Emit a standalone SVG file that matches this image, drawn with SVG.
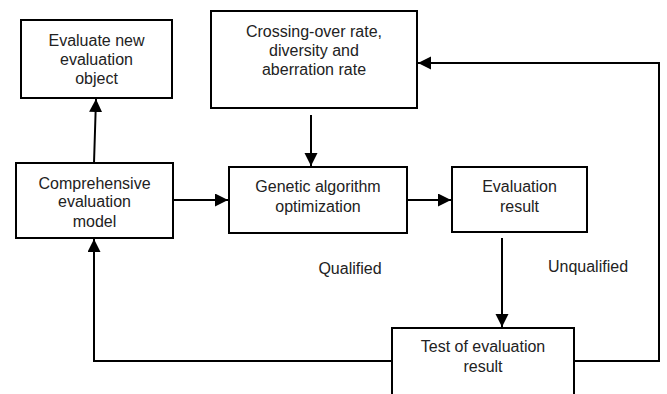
<svg xmlns="http://www.w3.org/2000/svg" width="667" height="394" viewBox="0 0 667 394">
<style>
.box{fill:#fff;stroke:#000;stroke-width:2}
.t{font-family:"Liberation Sans",Arial,sans-serif;font-size:16px;fill:#222;text-anchor:middle}
.c{fill:none;stroke:#000;stroke-width:2}
</style>
<defs>
<marker id="ah" markerUnits="userSpaceOnUse" markerWidth="14" markerHeight="14" refX="13" refY="6.5" orient="auto">
<path d="M0,0 L13,6.5 L0,13 z" fill="#000"/>
</marker>
</defs>
<rect width="667" height="394" fill="#fff"/>
<g id="connectors">
<path class="c" d="M94,163 L96,99" marker-end="url(#ah)"/>
<path class="c" d="M311,115 L311,166" marker-end="url(#ah)"/>
<path class="c" d="M173,200 L228,200" marker-end="url(#ah)"/>
<path class="c" d="M407,200 L451,200" marker-end="url(#ah)"/>
<path class="c" d="M502,238 L502,327" marker-end="url(#ah)"/>
<path class="c" d="M392,361 L94,361 L94,239" marker-end="url(#ah)"/>
<path class="c" d="M574,361 L659,361 L659,63 L418,63" marker-end="url(#ah)"/>
<text class="t" x="350" y="274">Qualified</text>
<text class="t" x="588" y="272">Unqualified</text>
</g>
<g id="evaluate-new">
<rect class="box" x="21" y="20" width="151" height="78"/>
<text class="t" x="96.5" y="46">Evaluate new</text>
<text class="t" x="96.5" y="65">evaluation</text>
<text class="t" x="96.5" y="84">object</text>
</g>
<g id="crossing-over">
<rect class="box" x="211" y="11" width="206" height="97"/>
<text class="t" x="314" y="37">Crossing-over rate,</text>
<text class="t" x="314" y="56">diversity and</text>
<text class="t" x="314" y="75">aberration rate</text>
</g>
<g id="comprehensive">
<rect class="box" x="16" y="163" width="157" height="75"/>
<text class="t" x="94.5" y="188.5">Comprehensive</text>
<text class="t" x="94.5" y="207">evaluation</text>
<text class="t" x="94.5" y="226.5">model</text>
</g>
<g id="genetic">
<rect class="box" x="229" y="167" width="178" height="66"/>
<text class="t" x="318" y="192">Genetic algorithm</text>
<text class="t" x="318" y="212">optimization</text>
</g>
<g id="evaluation-result">
<rect class="box" x="452" y="167" width="135" height="65"/>
<text class="t" x="519.5" y="192">Evaluation</text>
<text class="t" x="519.5" y="212">result</text>
</g>
<g id="test">
<rect class="box" x="392" y="328" width="182" height="80"/>
<text class="t" x="483" y="352">Test of evaluation</text>
<text class="t" x="483" y="372">result</text>
</g>
</svg>
